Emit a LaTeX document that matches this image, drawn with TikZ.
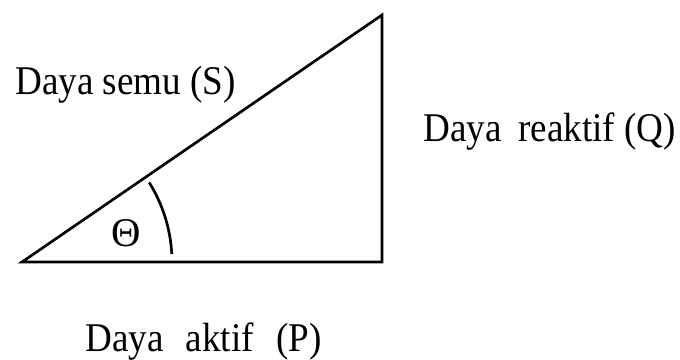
\documentclass[tikz,border=0pt]{standalone}
\usepackage{fontspec}
\setmainfont{Liberation Serif}
\newcommand{\narrow}[1]{\scalebox{0.91}[1]{#1}}
\tikzset{side/.style={line width=1.9pt, line join=miter},
  lbl/.style={font=\fontsize{29}{34}\selectfont, inner sep=0pt, anchor=base west}}

\begin{document}
\begin{tikzpicture}[x=0.025cm, y=-0.025cm]
  \useasboundingbox (0,0) rectangle (680,360);
  % corners
  \coordinate (A) at (22,262);
  \coordinate (B) at (382,262);
  \coordinate (C) at (382,15);
  % triangle
  \draw[side] (A) -- (B) -- (C) -- cycle;
  % angle
  \draw[side] (A) ++(-3:150) arc[start angle=-3, end angle=-32, radius=150];
  \node[lbl] (theta) at (111,247) {Θ};
  % labels
  \node[lbl] (S) at (15,95) {\narrow{Daya semu (S)}};
  \node[lbl] (Q) at (423,142) {\narrow{Daya\hspace{0.2em} reaktif (Q)}};
  \node[lbl] (P) at (85,352) {\narrow{Daya\hspace{0.35em} aktif\hspace{0.35em} (P)}};
\end{tikzpicture}
\end{document}
